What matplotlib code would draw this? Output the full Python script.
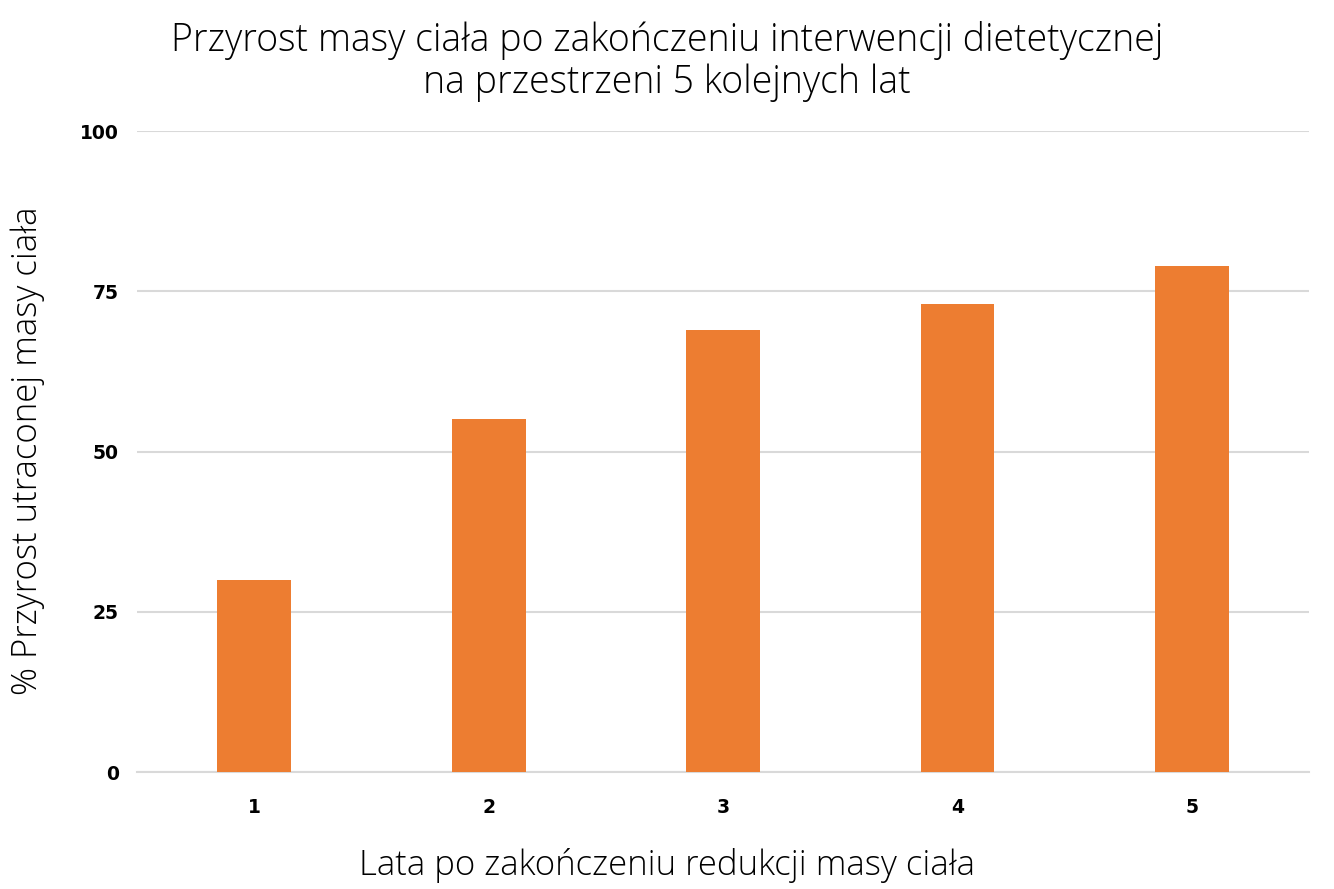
import numpy as np
import matplotlib
matplotlib.use('Agg')
import matplotlib.pyplot as plt

# dane
lata = ['1', '2', '3', '4', '5']
przyrost = [30, 55, 69, 73, 79]
yticks = [0, 25, 50, 75, 100]

plt.rcParams['font.family'] = ['Open Sans', 'DejaVu Sans']

fig = plt.figure(figsize=(13.34, 8.89), dpi=100)
ax = fig.add_axes([0.1027, 0.1316, 0.8786, 0.721])

x = np.arange(len(lata))
ax.bar(x, przyrost, width=0.315, color='#ED7D31', zorder=3)

ax.set_xlim(-0.5, len(lata) - 0.5)
ax.set_ylim(0, 100)
ticki = dict(fontfamily='DejaVu Sans', fontweight='bold', fontsize=13.5)
ax.set_yticks(yticks)
ax.set_yticklabels([str(v) for v in yticks], **ticki)
ax.set_xticks(x)
ax.set_xticklabels(lata, **ticki)
ax.grid(axis='y', color='#D9D9D9', linewidth=1.5, zorder=0)
for s in ['top', 'right', 'left']:
    ax.spines[s].set_visible(False)
ax.spines['bottom'].set_color('#D9D9D9')
ax.spines['bottom'].set_linewidth(1.5)
ax.tick_params(length=0, pad=13)
ax.tick_params(axis='x', pad=19)

tekst = dict(ha='center', va='center', fontweight='light', color='black')
fig.text(0.5, 0.955, 'Przyrost masy ciała po zakończeniu interwencji dietetycznej',
         fontsize=27, **tekst)
fig.text(0.5, 0.907, 'na przestrzeni 5 kolejnych lat', fontsize=27, **tekst)
fig.text(0.5, 0.026, 'Lata po zakończeniu redukcji masy ciała', fontsize=25, **tekst)
fig.text(0.021, 0.493, '% Przyrost utraconej masy ciała', rotation=90,
         fontsize=25, **tekst)

fig.savefig('out.png', dpi=100)
